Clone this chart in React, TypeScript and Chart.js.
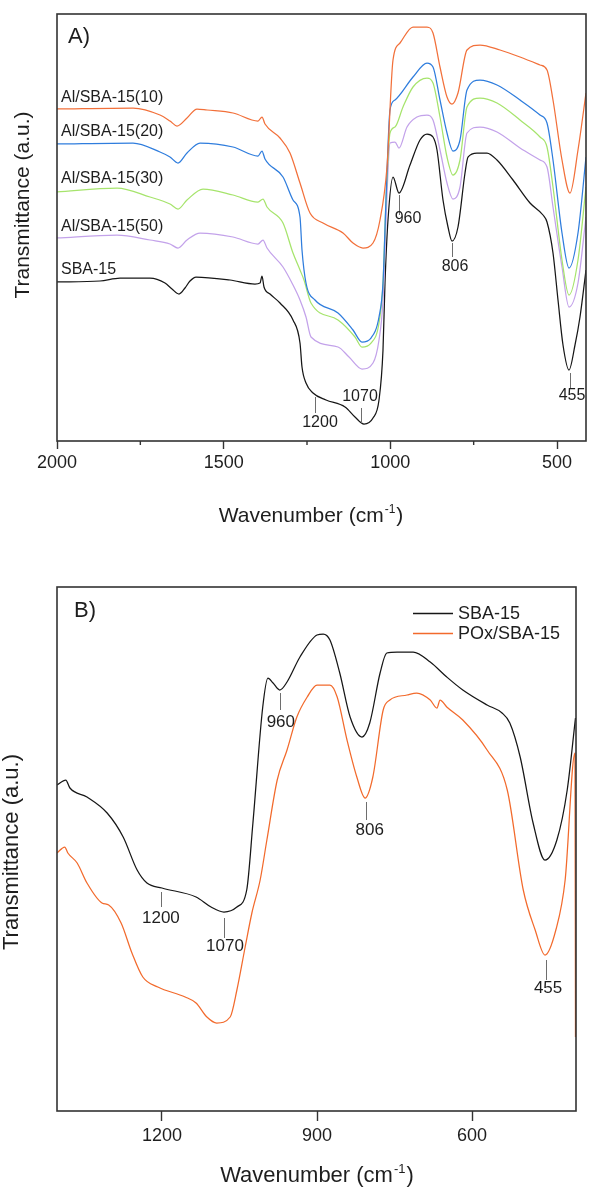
import { useEffect, useRef } from "react";
import { Chart, registerables } from "chart.js";

Chart.register(...registerables);

const FONT = "'Liberation Sans', Arial, Helvetica, sans-serif";
const TEXT = "#1e1e1e";
const FRAME = "#333333";
const ANN_LINE = "#6e6e6e";

// ================= Panel A =================
const A_X_MIN = 413;
const A_X_MAX = 2000;
const A_Y_MIN = 0;
const A_Y_MAX = 42.7;
const A_X_TICKS = [2000, 1500, 1000, 500];
const A_X_MINOR = [1750, 1250, 750];

const A_SBA15_WN = [2000,1871,1811,1721,1676,1655,1634,1616,1601,1583,1481,1406,1391,1385,1379,1361,1331,1292,1271,1265,1253,1232,1193,1136,1106,1079,1052,1034,1022,1016,1007,992,974,941,911,890,872,860,842,827,815,797,776,767,740,710,680,632,581,542,530,512,497,482,464,446,431,413];
const A_SBA15_T = [15.9,16.0,16.3,16.3,15.8,15.2,14.7,15.3,16.0,16.4,16.1,15.7,15.8,16.5,15.4,14.7,13.8,12.1,9.8,7.4,5.8,4.8,4.1,3.4,2.4,1.7,2.3,4.1,9.1,15.8,22.1,26.4,24.8,27.6,30.1,30.7,30.4,29.1,24.1,21.4,20.0,21.4,26.8,28.4,28.8,28.8,28.1,26.1,23.8,22.6,21.9,18.8,14.1,9.6,7.1,9.6,12.4,17.1];

const A_AL10_WN = [2000,1772,1691,1661,1640,1610,1580,1550,1472,1397,1385,1376,1331,1301,1271,1241,1202,1142,1112,1082,1052,1031,1010,992,971,932,890,872,851,830,815,797,770,731,671,611,551,530,512,485,461,437,413];
const A_AL10_T = [33.2,33.3,32.6,32.0,31.5,32.3,33.2,33.1,32.8,32.0,32.4,31.7,30.3,28.8,25.8,22.8,21.8,20.8,19.8,19.3,19.8,22.1,27.4,38.1,39.8,41.4,41.4,40.8,37.4,34.4,33.7,34.8,39.1,39.6,39.1,38.4,37.6,37.1,34.1,28.1,24.8,29.1,34.8];

const A_AL20_WN = [2000,1772,1691,1661,1637,1610,1571,1472,1397,1385,1376,1322,1292,1271,1265,1253,1226,1157,1112,1085,1058,1034,1022,1013,1001,986,932,890,872,851,830,812,791,770,731,680,611,551,530,512,485,464,437,413];
const A_AL20_T = [29.7,29.8,28.9,28.4,27.8,28.8,29.8,29.4,28.5,29.0,28.2,26.4,24.1,22.4,19.1,15.8,14.1,12.8,11.1,9.9,10.3,12.4,15.8,24.1,33.1,34.1,36.4,37.8,37.4,34.1,30.8,29.0,30.1,35.1,36.1,35.6,34.1,32.6,31.8,28.1,20.8,17.3,20.8,28.4];

const A_AL30_WN = [2000,1820,1721,1661,1637,1610,1562,1472,1397,1382,1370,1322,1292,1271,1259,1238,1157,1106,1085,1058,1034,1022,1013,1001,986,962,932,890,872,851,830,812,791,770,731,680,611,551,530,512,485,464,437,413];
const A_AL30_T = [24.9,25.3,24.4,23.7,23.2,24.1,25.2,24.6,23.9,24.2,23.4,21.8,18.8,17.1,16.1,13.8,12.1,10.4,9.4,9.8,11.8,15.8,24.1,30.8,31.4,33.4,35.4,36.3,35.8,32.4,28.4,26.6,28.1,33.4,34.3,33.8,32.1,30.4,29.4,25.4,18.1,14.6,18.1,25.4];

const A_AL50_WN = [2000,1820,1721,1661,1637,1610,1571,1472,1397,1382,1370,1322,1292,1271,1253,1238,1157,1124,1085,1052,1034,1022,1013,1001,986,974,950,920,890,872,851,830,812,791,770,731,680,611,551,530,512,485,464,437,413];
const A_AL50_T = [20.3,20.6,20.1,19.7,19.3,20.1,20.8,20.4,19.7,20.1,19.3,17.4,15.6,14.1,12.4,10.4,9.4,8.4,7.2,7.8,10.1,14.1,22.1,29.8,29.9,29.3,31.4,32.4,32.6,32.1,29.1,25.8,24.2,25.4,30.8,31.4,30.9,29.3,28.1,27.4,23.4,17.4,13.4,15.8,22.4];

const A_NAMES = ["Al/SBA-15(10)", "Al/SBA-15(20)", "Al/SBA-15(30)", "Al/SBA-15(50)", "SBA-15"];
const A_NAME_WN = 1988;
const A_NAME_T = [34.3, 30.9, 26.2, 21.4, 17.1];

const A_PEAK_LABELS = ["960", "806", "1200", "1070", "455"];
const A_PEAK_WN = [974, 815, 1226, 1088, 461];
const A_PEAK_Y1 = [24.6, 19.8, 4.4, 3.3, 6.8];
const A_PEAK_Y2 = [22.6, 18.4, 2.8, 1.8, 5.3];
const A_PEAK_TEXT_WN = [947, 806, 1211, 1091, 455];
const A_PEAK_TEXT_T = [22.2, 17.4, 1.8, 4.4, 4.5];

// ================= Panel B =================
const B_X_MIN = 399;
const B_X_MAX = 1403;
const B_Y_MIN = 0;
const B_Y_MAX = 52.4;
const B_X_TICKS = [1200, 900, 600];

const B_SBA15_WN = [1403,1386,1378,1345,1306,1275,1248,1229,1200,1134,1105,1080,1055,1036,1024,1005,995,985,972,958,933,900,888,875,856,836,813,798,778,765,745,714,681,649,618,571,542,527,507,482,459,436,416,400];
const B_SBA15_T = [32.6,33.1,32.3,31.4,29.8,27.4,24.1,22.8,22.3,21.4,20.4,19.9,20.4,22.1,28.8,40.4,43.3,42.8,42.1,42.9,45.4,47.6,47.7,47.1,43.8,39.4,37.4,38.8,43.8,45.8,45.9,45.9,44.9,43.4,42.1,40.6,39.8,38.8,35.4,28.8,25.1,27.1,32.1,39.3];

const B_POX_WN = [1403,1388,1382,1364,1345,1316,1303,1279,1258,1237,1208,1155,1134,1113,1094,1068,1055,1039,1026,1010,997,977,958,939,919,900,875,861,842,823,807,792,772,759,726,707,681,668,662,649,618,571,532,501,478,459,438,420,401,400];
const B_POX_T = [25.8,26.4,25.8,24.8,22.8,20.8,20.6,18.8,15.8,13.4,12.4,11.4,10.8,9.4,8.8,9.4,12.1,16.4,19.8,23.1,27.1,33.1,36.1,39.4,41.4,42.6,42.6,41.4,37.1,33.4,31.3,33.4,40.1,41.1,41.6,41.8,41.1,40.3,41.1,40.4,39.1,36.1,32.1,22.1,18.1,15.6,18.1,23.1,35.8,7.4];

const B_LEGEND = ["SBA-15", "POx/SBA-15"];

const B_PEAK_LABELS = ["960", "806", "1200", "1070", "455"];
const B_PEAK_WN = [972, 805, 1202, 1080, 457];
const B_PEAK_Y1 = [41.8, 30.9, 21.9, 19.3, 15.1];
const B_PEAK_Y2 = [40.1, 29.1, 20.4, 17.3, 13.1];
const B_PEAK_TEXT_WN = [970, 798, 1202, 1078, 453];
const B_PEAK_TEXT_T = [38.9, 28.1, 19.3, 16.5, 12.3];

// colours
const C_BLACK = "#161616";
const C_ORANGE = "#f2703a";
const C_BLUE = "#2f7ddd";
const C_GREEN = "#a6e46c";
const C_PURPLE = "#c3a2ea";
const C_ORANGE_B = "#f26a2c";

function line(wn: number[], t: number[], color: string, label: string) {
  return {
    label,
    data: wn.map((x, i) => ({ x, y: t[i] })),
    borderColor: color,
    backgroundColor: color,
    borderWidth: 1.25,
    pointRadius: 0,
    fill: false,
    cubicInterpolationMode: "monotone" as const,
  };
}

function drawXTitle(ctx: CanvasRenderingContext2D, cx: number, baseY: number, size: number) {
  const main = "Wavenumber (cm";
  const sup = "-1";
  const close = ")";
  ctx.textAlign = "left";
  ctx.textBaseline = "alphabetic";
  ctx.font = `${size}px ${FONT}`;
  const w1 = ctx.measureText(main).width;
  const w3 = ctx.measureText(close).width;
  const ss = Math.round(size * 0.58);
  ctx.font = `${ss}px ${FONT}`;
  const w2 = ctx.measureText(sup).width;
  const total = w1 + w2 + w3 + 2;
  let x = cx - total / 2;
  ctx.font = `${size}px ${FONT}`;
  ctx.fillText(main, x, baseY);
  x += w1 + 1;
  ctx.font = `${ss}px ${FONT}`;
  ctx.fillText(sup, x, baseY - size * 0.42);
  x += w2 + 1;
  ctx.font = `${size}px ${FONT}`;
  ctx.fillText(close, x, baseY);
}

function drawYTitle(ctx: CanvasRenderingContext2D, cx: number, cy: number, size: number) {
  ctx.save();
  ctx.translate(cx, cy);
  ctx.rotate(-Math.PI / 2);
  ctx.textAlign = "center";
  ctx.textBaseline = "middle";
  ctx.font = `${size}px ${FONT}`;
  ctx.fillText("Transmittance (a.u.)", 0, 0);
  ctx.restore();
}

type DecorOpts = {
  id: string;
  minor: number[];
  minorLen: number;
  peakLabels: string[];
  peakWn: number[];
  peakY1: number[];
  peakY2: number[];
  peakTextWn: number[];
  peakTextT: number[];
  peakFont: number;
  names?: string[];
  nameWn?: number;
  nameT?: number[];
  panel: string;
  panelDx: number;
  panelBase: number;
  xTitleCx: number;
  xTitleBase: number;
  xTitleSize: number;
  yTitleCx: number;
  yTitleCy: number;
  yTitleSize: number;
  legend?: { names: string[]; colors: string[] };
};

function decor(o: DecorOpts) {
  return {
    id: o.id,
    afterDraw(chart: any) {
      const { ctx, chartArea: ca } = chart;
      const xs = chart.scales.x;
      const ys = chart.scales.y;
      ctx.save();

      // peak markers
      ctx.strokeStyle = ANN_LINE;
      ctx.lineWidth = 1;
      ctx.fillStyle = TEXT;
      ctx.font = `${o.peakFont}px ${FONT}`;
      ctx.textAlign = "center";
      ctx.textBaseline = "middle";
      o.peakLabels.forEach((lab, i) => {
        const px = Math.round(xs.getPixelForValue(o.peakWn[i])) + 0.5;
        ctx.beginPath();
        ctx.moveTo(px, ys.getPixelForValue(o.peakY1[i]));
        ctx.lineTo(px, ys.getPixelForValue(o.peakY2[i]));
        ctx.stroke();
        ctx.fillText(lab, xs.getPixelForValue(o.peakTextWn[i]), ys.getPixelForValue(o.peakTextT[i]));
      });

      // series names (panel A)
      if (o.names && o.nameT && o.nameWn !== undefined) {
        ctx.textAlign = "left";
        ctx.font = `16px ${FONT}`;
        o.names.forEach((n, i) => {
          ctx.fillText(n, xs.getPixelForValue(o.nameWn), ys.getPixelForValue(o.nameT![i]));
        });
      }

      // frame
      ctx.strokeStyle = FRAME;
      ctx.lineWidth = 1.6;
      ctx.strokeRect(ca.left, ca.top, ca.right - ca.left, ca.bottom - ca.top);

      // minor ticks
      ctx.lineWidth = 1.4;
      o.minor.forEach((v) => {
        const px = xs.getPixelForValue(v);
        ctx.beginPath();
        ctx.moveTo(px, ca.bottom);
        ctx.lineTo(px, ca.bottom + o.minorLen);
        ctx.stroke();
      });

      // panel label
      ctx.fillStyle = TEXT;
      ctx.textAlign = "left";
      ctx.textBaseline = "alphabetic";
      ctx.font = `22px ${FONT}`;
      ctx.fillText(o.panel, ca.left + o.panelDx, o.panelBase);

      // legend (panel B)
      if (o.legend) {
        ctx.font = `18px ${FONT}`;
        ctx.textBaseline = "middle";
        o.legend.names.forEach((n, i) => {
          const y = ca.top + 26 + i * 20;
          ctx.strokeStyle = o.legend!.colors[i];
          ctx.lineWidth = 1.3;
          ctx.beginPath();
          ctx.moveTo(ca.right - 163, y + 0.5);
          ctx.lineTo(ca.right - 123, y + 0.5);
          ctx.stroke();
          ctx.fillStyle = TEXT;
          ctx.fillText(n, ca.right - 118, y + 1);
        });
      }

      // axis titles
      ctx.fillStyle = TEXT;
      drawXTitle(ctx, o.xTitleCx, o.xTitleBase, o.xTitleSize);
      drawYTitle(ctx, o.yTitleCx, o.yTitleCy, o.yTitleSize);

      ctx.restore();
    },
  };
}

function makeChart(
  canvas: HTMLCanvasElement,
  datasets: any[],
  xMin: number,
  xMax: number,
  yMin: number,
  yMax: number,
  ticks: number[],
  tickLen: number,
  tickPad: number,
  xHeight: number,
  padding: any,
  plugin: any
) {
  return new Chart(canvas, {
    type: "line",
    data: { datasets },
    options: {
      responsive: false,
      animation: false,
      devicePixelRatio: 1,
      events: [],
      layout: { padding },
      plugins: {
        legend: { display: false },
        tooltip: { enabled: false },
        title: { display: false },
      },
      scales: {
        x: {
          type: "linear",
          reverse: true,
          min: xMin,
          max: xMax,
          afterBuildTicks: (s: any) => {
            s.ticks = ticks.map((v) => ({ value: v }));
          },
          afterFit: (s: any) => {
            s.height = xHeight;
          },
          ticks: {
            callback: (v: any) => String(v),
            font: { family: FONT, size: 18, lineHeight: 1.2 },
            color: TEXT,
            padding: tickPad,
            maxRotation: 0,
            minRotation: 0,
            autoSkip: false,
          },
          grid: {
            display: true,
            drawOnChartArea: false,
            drawTicks: true,
            tickLength: tickLen,
            tickWidth: 1.4,
            tickColor: FRAME,
            color: FRAME,
          },
          border: { display: false },
          title: { display: false },
        },
        y: {
          type: "linear",
          display: false,
          min: yMin,
          max: yMax,
        },
      },
    } as any,
    plugins: [plugin],
  });
}

export default function App() {
  const refA = useRef<HTMLCanvasElement>(null);
  const refB = useRef<HTMLCanvasElement>(null);

  useEffect(() => {
    const chartA = makeChart(
      refA.current!,
      [
        line(A_AL10_WN, A_AL10_T, C_ORANGE, A_NAMES[0]),
        line(A_AL20_WN, A_AL20_T, C_BLUE, A_NAMES[1]),
        line(A_AL30_WN, A_AL30_T, C_GREEN, A_NAMES[2]),
        line(A_AL50_WN, A_AL50_T, C_PURPLE, A_NAMES[3]),
        line(A_SBA15_WN, A_SBA15_T, C_BLACK, A_NAMES[4]),
      ],
      A_X_MIN,
      A_X_MAX,
      A_Y_MIN,
      A_Y_MAX,
      A_X_TICKS,
      8,
      3,
      104,
      { left: 57, right: 3, top: 14, bottom: 0 },
      decor({
        id: "decorA",
        minor: A_X_MINOR,
        minorLen: 4,
        peakLabels: A_PEAK_LABELS,
        peakWn: A_PEAK_WN,
        peakY1: A_PEAK_Y1,
        peakY2: A_PEAK_Y2,
        peakTextWn: A_PEAK_TEXT_WN,
        peakTextT: A_PEAK_TEXT_T,
        peakFont: 16,
        names: A_NAMES,
        nameWn: A_NAME_WN,
        nameT: A_NAME_T,
        panel: "A)",
        panelDx: 11,
        panelBase: 43,
        xTitleCx: 311,
        xTitleBase: 522,
        xTitleSize: 21,
        yTitleCx: 23,
        yTitleCy: 205,
        yTitleSize: 21,
      })
    );

    const chartB = makeChart(
      refB.current!,
      [
        line(B_POX_WN, B_POX_T, C_ORANGE_B, B_LEGEND[1]),
        line(B_SBA15_WN, B_SBA15_T, C_BLACK, B_LEGEND[0]),
      ],
      B_X_MIN,
      B_X_MAX,
      B_Y_MIN,
      B_Y_MAX,
      B_X_TICKS,
      10,
      4,
      79,
      { left: 57, right: 13, top: 42, bottom: 0 },
      decor({
        id: "decorB",
        minor: [],
        minorLen: 0,
        peakLabels: B_PEAK_LABELS,
        peakWn: B_PEAK_WN,
        peakY1: B_PEAK_Y1,
        peakY2: B_PEAK_Y2,
        peakTextWn: B_PEAK_TEXT_WN,
        peakTextT: B_PEAK_TEXT_T,
        peakFont: 17,
        panel: "B)",
        panelDx: 17,
        panelBase: 72,
        xTitleCx: 317,
        xTitleBase: 637,
        xTitleSize: 22,
        yTitleCx: 12,
        yTitleCy: 307,
        yTitleSize: 22,
        legend: { names: B_LEGEND, colors: [C_BLACK, C_ORANGE_B] },
      })
    );

    return () => {
      chartA.destroy();
      chartB.destroy();
    };
  }, []);

  return (
    <div style={{ position: "absolute", left: 0, top: 0, width: 589, height: 1190, background: "#ffffff" }}>
      <canvas ref={refA} width={589} height={545} style={{ position: "absolute", left: 0, top: 0, display: "block" }} />
      <canvas ref={refB} width={589} height={645} style={{ position: "absolute", left: 0, top: 545, display: "block" }} />
    </div>
  );
}
